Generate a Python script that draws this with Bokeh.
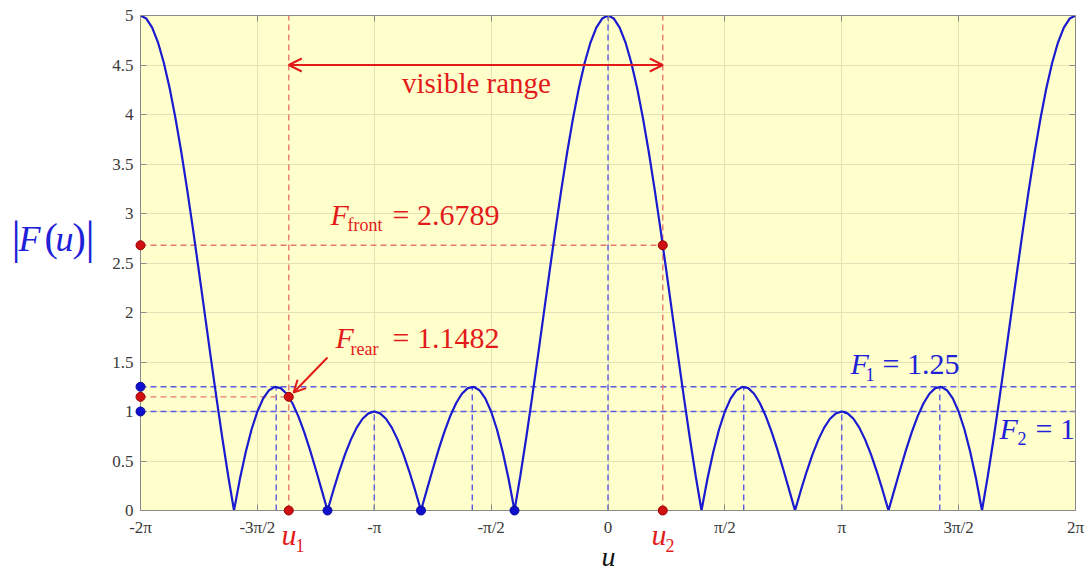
import numpy as np
from bokeh.plotting import figure
from bokeh.models import Range1d, FixedTicker, Arrow, OpenHead, LinearAxis
from bokeh.core.properties import value
from bokeh.embed import file_html
from bokeh.resources import INLINE

# ---------------- data (u in units of pi) ----------------
# |F(u)| read at u = 0, pi/40, 2pi/40, ..., pi  (curve is symmetric about 0, pi, 2pi)
F_quarter = [5.0, 4.9692, 4.8774, 4.7268, 4.5202, 4.2620, 3.9576, 3.6133, 3.2361,
             2.8337, 2.4142, 1.9860, 1.5575, 1.1370, 0.7324, 0.3512, 0.0, 0.3151,
             0.5892, 0.8185, 1.0, 1.1323, 1.2150, 1.2489, 1.2361, 1.1796, 1.0836,
             0.9530, 0.7936, 0.6118, 0.4142, 0.2079, 0.0, 0.2027, 0.3936, 0.5665,
             0.7159, 0.8373, 0.9267, 0.9815, 1.0]
u1 = -1.3657            # rear edge of visible range (x pi)
u2 = 0.2343             # front edge of visible range (x pi)
F_front = 2.6789
F_rear = 1.1482
F1 = 1.25
F2 = 1.0
peak_u = [-1.4194, -1.0, -0.5806, 0.0, 0.5806, 1.0, 1.4194]
peak_F = [1.25, 1.0, 1.25, 5.0, 1.25, 1.0, 1.25]
zero_dots_u = [-1.2, -0.8, -0.4]
x_ticks = [-2, -1.5, -1, -0.5, 0, 0.5, 1, 1.5, 2]
x_labels = ["-2\u03c0", "-3\u03c0/2", "-\u03c0", "-\u03c0/2", "0", "\u03c0/2", "\u03c0", "3\u03c0/2", "2\u03c0"]
y_ticks = [0, 0.5, 1, 1.5, 2, 2.5, 3, 3.5, 4, 4.5, 5]
y_labels = ["0", "0.5", "1", "1.5", "2", "2.5", "3", "3.5", "4", "4.5", "5"]

# build the full curve from -2pi to 2pi by the symmetry of the sampled values
Fq = np.array(F_quarter)
F_full = np.concatenate([Fq, Fq[::-1][1:], Fq[1:], Fq[::-1][1:]])
u_full = np.linspace(-2, 2, len(F_full))

# ---------------- styling ----------------
SERIF = "Liberation Serif"
RED = "#e31a1a"
RED_DASH = "#e8786e"
BLUE = "#1a1ad0"
BLUE_DASH = "#5a5ae0"
TXT_BLUE = "#2020d8"

p = figure(width=1086, height=573, x_range=Range1d(-2, 2), y_range=Range1d(0, 5),
           output_backend="svg", toolbar_location=None,
           min_border_left=140, min_border_right=11, min_border_top=15, min_border_bottom=63,
           background_fill_color="#FFFFCC", border_fill_color="white",
           outline_line_color="#8a8a8a")

p.xaxis.ticker = FixedTicker(ticks=x_ticks)
p.xaxis.major_label_overrides = {t: l for t, l in zip(x_ticks, x_labels)}
p.yaxis.ticker = FixedTicker(ticks=y_ticks)
p.yaxis.major_label_overrides = {t: l for t, l in zip(y_ticks, y_labels)}
for ax in (p.xaxis[0], p.yaxis[0]):
    ax.axis_line_color = "#8a8a8a"
    ax.major_tick_line_color = "#8a8a8a"
    ax.major_tick_in = 6
    ax.major_tick_out = 0
    ax.minor_tick_line_color = None
    ax.major_label_text_font = SERIF
    ax.major_label_text_font_size = "17px"
    ax.major_label_text_color = "#3a3a3a"
p.xaxis.major_label_standoff = 7
p.yaxis.major_label_standoff = 7

# box ticks on top and right (no labels)
for ticks, side in ((x_ticks, "above"), (y_ticks, "right")):
    box_ax = LinearAxis(ticker=FixedTicker(ticks=ticks), major_label_text_color=None,
                        major_label_text_font_size="1px", major_label_standoff=0,
                        major_tick_in=6, major_tick_out=0, axis_line_color="#8a8a8a",
                        major_tick_line_color="#8a8a8a", minor_tick_line_color=None)
    p.add_layout(box_ax, side)

p.xgrid.ticker = FixedTicker(ticks=x_ticks)
p.ygrid.ticker = FixedTicker(ticks=y_ticks)
p.grid.grid_line_color = "#e4e0b8"
p.grid.grid_line_width = 1

# ---------------- dashed guide lines ----------------
# blue: side-lobe levels and peak positions
p.segment(x0=[-2, -2], y0=[F1, F2], x1=[2, 2], y1=[F1, F2],
          line_color=BLUE_DASH, line_width=1.4, line_dash="6 4")
p.segment(x0=peak_u, y0=[0] * len(peak_u), x1=peak_u, y1=peak_F,
          line_color=BLUE_DASH, line_width=1.4, line_dash="6 4")
# red: visible range limits and edge values
p.segment(x0=[u1, u2], y0=[0, 0], x1=[u1, u2], y1=[5, 5],
          line_color=RED_DASH, line_width=1.4, line_dash="6 4")
p.segment(x0=[-2, -2], y0=[F_front, F_rear], x1=[u2, u1], y1=[F_front, F_rear],
          line_color=RED_DASH, line_width=1.4, line_dash="6 4")

# ---------------- curve ----------------
r_curve = p.line(u_full, F_full, line_color=BLUE, line_width=2.2)

# ---------------- dots ----------------
r_blue = p.scatter(x=[-2, -2] + zero_dots_u, y=[F1, F2] + [0] * len(zero_dots_u),
                   size=9, fill_color="#1010cc", line_color="#0a0a99")
r_red = p.scatter(x=[-2, u2, -2, u1, u1, u2], y=[F_front, F_front, F_rear, F_rear, 0, 0],
                  size=9, fill_color="#d01010", line_color="#990000")
r_blue.level = "overlay"
r_red.level = "overlay"

# ---------------- arrows ----------------
p.add_layout(Arrow(start=OpenHead(size=13, line_color=RED, line_width=2),
                   end=OpenHead(size=13, line_color=RED, line_width=2),
                   x_start=u1, y_start=4.5, x_end=u2, y_end=4.5,
                   line_color=RED, line_width=2))


def px2x(px):
    return (px - 140) / 233.75 - 2


def py2y(py):
    return (510 - py) / 99


p.add_layout(Arrow(end=OpenHead(size=12, line_color=RED, line_width=2),
                   x_start=px2x(327), y_start=py2y(357), x_end=px2x(293), y_end=py2y(392),
                   line_color=RED, line_width=2))


def lab(text, px, py, size, color, style="normal", align="left"):
    # py is the wanted baseline; the rendered baseline sits ~0.37 em lower
    r = p.text(x=[px2x(px)], y=[py2y(py - 0.37 * size)], text=[text], text_font=value(SERIF),
               text_font_size=f"{size}px", text_font_style=style,
               text_color=color, text_align=align, text_baseline="alphabetic")
    r.level = "overlay"


# visible range
lab("visible range", 476, 93, 29, RED, align="center")
# F_front
lab("F", 330, 225, 30, RED, "italic")
lab("front", 347, 231, 18, RED)
lab("= 2.6789", 392, 225, 30, RED)
# F_rear
lab("F", 335, 348, 30, RED, "italic")
lab("rear", 350, 355, 18, RED)
lab("= 1.1482", 392, 348, 30, RED)
# F1
lab("F", 850, 374, 30, TXT_BLUE, "italic")
lab("1", 865, 381, 18, TXT_BLUE)
lab("= 1.25", 882, 374, 30, TXT_BLUE)
# F2
lab("F", 999, 439, 30, TXT_BLUE, "italic")
lab("2", 1017, 445, 18, TXT_BLUE)
lab("= 1", 1035, 439, 30, TXT_BLUE)
# u1, u2
lab("u", 281, 545, 30, RED, "italic")
lab("1", 295, 552, 18, RED)
lab("u", 651, 545, 30, RED, "italic")
lab("2", 665, 552, 18, RED)
# x axis label
lab("u", 601, 566, 28, "#111111", "italic")
# y axis label |F(u)|
lab("|", 11, 254, 46, TXT_BLUE)
lab("F", 18, 252, 36, TXT_BLUE, "italic")
lab("(", 44, 252, 40, TXT_BLUE)
lab("u", 55, 252, 36, TXT_BLUE, "italic")
lab(")", 72, 252, 40, TXT_BLUE)
lab("|", 85, 254, 46, TXT_BLUE)

open("out.html", "w").write(file_html(p, INLINE))
